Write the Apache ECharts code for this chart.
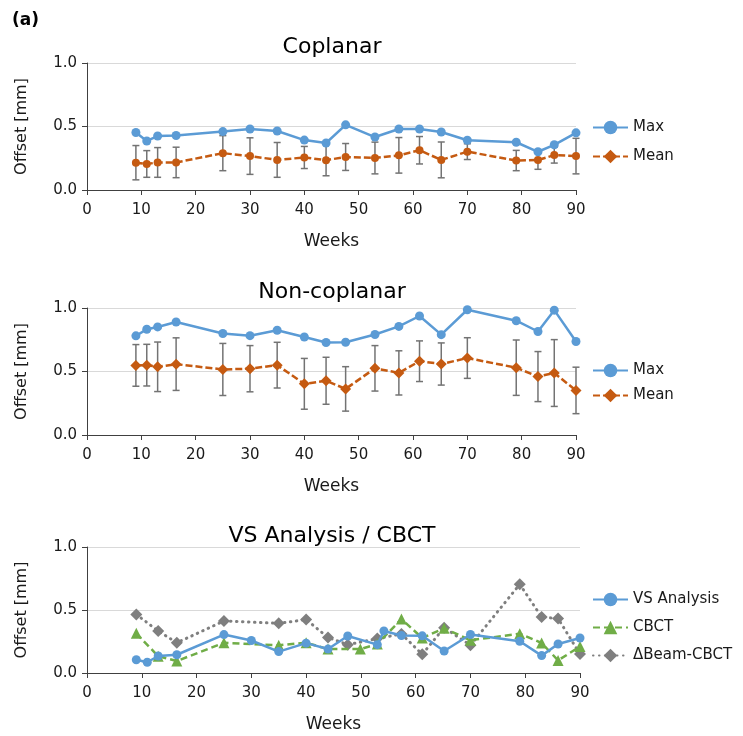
<!DOCTYPE html>
<html>
<head>
<meta charset="utf-8">
<script src="https://cdn.jsdelivr.net/npm/echarts@6/dist/echarts.min.js"></script>
<style>
  html, body { margin: 0; padding: 0; background: #fff; }
  #chart { width: 743px; height: 736px; }
</style>
</head>
<body>
<div id="chart"></div>
<script>
// weeks shared by the two upper panels
const weeks = [9, 11, 13, 16.4, 25, 30, 35, 40, 44, 47.6, 53, 57.4, 61.2, 65.2, 70, 79, 83, 86, 90];

// Coplanar
const copMax = [0.453, 0.386, 0.425, 0.429, 0.46, 0.48, 0.465, 0.393, 0.37, 0.513, 0.417, 0.48, 0.48, 0.457, 0.392, 0.376, 0.301, 0.356, 0.45];
const copMean = [0.215, 0.205, 0.217, 0.217, 0.29, 0.267, 0.237, 0.256, 0.235, 0.26, 0.252, 0.273, 0.313, 0.237, 0.302, 0.232, 0.236, 0.275, 0.267];
const copSd = [0.135, 0.105, 0.117, 0.12, 0.138, 0.144, 0.137, 0.087, 0.123, 0.106, 0.125, 0.14, 0.108, 0.141, 0.062, 0.08, 0.073, 0.063, 0.14];

// Non-coplanar
const nonMax = [0.781, 0.833, 0.851, 0.89, 0.799, 0.782, 0.825, 0.772, 0.728, 0.73, 0.791, 0.855, 0.937, 0.79, 0.986, 0.9, 0.815, 0.983, 0.736];
const nonMean = [0.548, 0.55, 0.537, 0.558, 0.516, 0.522, 0.55, 0.403, 0.427, 0.363, 0.525, 0.489, 0.581, 0.559, 0.606, 0.53, 0.46, 0.488, 0.351];
const nonSd = [0.164, 0.164, 0.195, 0.207, 0.205, 0.182, 0.18, 0.2, 0.185, 0.175, 0.179, 0.174, 0.16, 0.166, 0.16, 0.218, 0.197, 0.263, 0.183];

// VS Analysis / CBCT
const vsWeeks = [9, 11, 13, 16.4, 25, 30, 35, 40, 44, 47.6, 53, 54.2, 57.4, 61.2, 65.2, 70, 79, 83, 86, 90];
const vsVal = [0.105, 0.085, 0.135, 0.145, 0.305, 0.258, 0.17, 0.237, 0.19, 0.294, 0.225, 0.334, 0.298, 0.295, 0.175, 0.306, 0.252, 0.138, 0.23, 0.278];
const cbctWeeks = [9, 13, 16.4, 25, 35, 40, 44, 49.9, 53, 57.4, 61.2, 65.2, 70, 79, 83, 86, 90];
const cbctVal = [0.315, 0.133, 0.095, 0.24, 0.22, 0.24, 0.19, 0.19, 0.23, 0.428, 0.278, 0.355, 0.26, 0.312, 0.238, 0.1, 0.21];
const deltaWeeks = [9, 13, 16.4, 25, 35, 40, 44, 47.6, 53, 57.4, 61.2, 65.2, 70, 79, 83, 86, 90];
const deltaVal = [0.465, 0.333, 0.24, 0.413, 0.394, 0.424, 0.282, 0.225, 0.273, 0.31, 0.148, 0.36, 0.22, 0.704, 0.444, 0.432, 0.15];

const titles = ['Coplanar', 'Non-coplanar', 'VS Analysis / CBCT'];

const BLUE = '#5b9bd5', ORANGE = '#c55a11', GREEN = '#70ad47', GRAY = '#7f7f7f';
const FONT = 'DejaVu Sans';
const TXT = '#1a1a1a';

const pairs = (xs, ys) => xs.map((x, i) => [x, ys[i]]);
const errData = (means, sds) => weeks.map((w, i) => [w, means[i] - sds[i], means[i] + sds[i]]);

const grids = [
  {left: 87, right: 167, top: 63, height: 127},
  {left: 87, right: 167, top: 308, height: 127},
  {left: 87, right: 163, top: 547, height: 126}
];

function xAxisFor(i) {
  return {
    gridIndex: i, type: 'value', min: 0, max: 90, interval: 10,
    name: 'Weeks', nameLocation: 'middle', nameGap: 43,
    nameTextStyle: {fontFamily: FONT, fontSize: 17, color: TXT},
    axisLine: {lineStyle: {color: '#404040', width: 1}},
    axisTick: {show: true, length: 5, lineStyle: {color: '#404040'}},
    axisLabel: {fontFamily: FONT, fontSize: 15, color: TXT, margin: 13},
    splitLine: {show: false}
  };
}

function yAxisFor(i) {
  return {
    gridIndex: i, type: 'value', min: 0, max: 1, interval: 0.5,
    name: 'Offset [mm]', nameLocation: 'middle', nameGap: 57,
    nameTextStyle: {fontFamily: FONT, fontSize: 16, color: TXT},
    axisLine: {show: true, lineStyle: {color: '#404040', width: 1}},
    axisTick: {show: true, length: 5, lineStyle: {color: '#404040'}},
    axisLabel: {fontFamily: FONT, fontSize: 15, color: TXT, margin: 10,
      formatter: v => v.toFixed(1)},
    splitLine: {show: true, lineStyle: {color: '#d9d9d9', width: 1}}
  };
}

function errorSeries(i, means, sds) {
  return {
    type: 'custom', xAxisIndex: i, yAxisIndex: i, z: 1, silent: true,
    data: errData(means, sds),
    renderItem: function (params, api) {
      const x = api.value(0);
      const lo = api.coord([x, api.value(1)]);
      const hi = api.coord([x, api.value(2)]);
      const cap = 3.5;
      const st = {stroke: '#737373', lineWidth: 1.5};
      return {
        type: 'group',
        children: [
          {type: 'line', shape: {x1: lo[0], y1: lo[1], x2: hi[0], y2: hi[1]}, style: st},
          {type: 'line', shape: {x1: lo[0] - cap, y1: lo[1], x2: lo[0] + cap, y2: lo[1]}, style: st},
          {type: 'line', shape: {x1: hi[0] - cap, y1: hi[1], x2: hi[0] + cap, y2: hi[1]}, style: st}
        ]
      };
    }
  };
}

function legendFor(names, top, gap) {
  return {
    data: names, orient: 'vertical', left: 592, top: top, padding: 0,
    itemWidth: 35, itemHeight: 17, itemGap: gap,
    textStyle: {fontFamily: FONT, fontSize: 15, color: TXT},
    selectedMode: false
  };
}

const option = {
  backgroundColor: '#fff',
  animation: false,
  title: [
    {text: '(a)', left: 12, top: 12, padding: 0,
      textStyle: {fontFamily: FONT, fontSize: 17, fontWeight: 'bold', color: '#000'}},
    ...titles.map((t, i) => ({
      text: t, left: 332, textAlign: 'center', top: [36, 281, 525][i], padding: 0,
      textStyle: {fontFamily: FONT, fontSize: 22, fontWeight: 'normal', color: '#000'}
    }))
  ],
  legend: [
    legendFor(['Max', 'Mean'], 120, 14),
    legendFor(['Max', 'Mean'], 363, 10),
    legendFor(['VS Analysis', 'CBCT', '\u0394Beam-CBCT'], 592, 13)
  ],
  grid: grids,
  xAxis: [0, 1, 2].map(xAxisFor),
  yAxis: [0, 1, 2].map(yAxisFor),
  series: [
    errorSeries(0, copMean, copSd),
    {
      name: 'Max', type: 'line', xAxisIndex: 0, yAxisIndex: 0, z: 3,
      data: pairs(weeks, copMax), symbol: 'circle', symbolSize: 9,
      lineStyle: {color: BLUE, width: 2.5}, itemStyle: {color: BLUE}
    },
    {
      name: 'Mean', type: 'line', xAxisIndex: 0, yAxisIndex: 0, z: 2,
      // series symbol is a diamond (legend), points are drawn as dots
      data: weeks.map((w, i) => ({value: [w, copMean[i]], symbol: 'circle', symbolSize: 8})),
      symbol: 'diamond', symbolSize: 11,
      lineStyle: {color: ORANGE, width: 2.5, type: [7, 3]}, itemStyle: {color: ORANGE}
    },
    errorSeries(1, nonMean, nonSd),
    {
      name: 'Max', type: 'line', xAxisIndex: 1, yAxisIndex: 1, z: 3,
      data: pairs(weeks, nonMax), symbol: 'circle', symbolSize: 9,
      lineStyle: {color: BLUE, width: 2.5}, itemStyle: {color: BLUE}
    },
    {
      name: 'Mean', type: 'line', xAxisIndex: 1, yAxisIndex: 1, z: 2,
      data: pairs(weeks, nonMean), symbol: 'diamond', symbolSize: 11,
      lineStyle: {color: ORANGE, width: 2.5, type: [7, 3]}, itemStyle: {color: ORANGE}
    },
    {
      name: 'VS Analysis', type: 'line', xAxisIndex: 2, yAxisIndex: 2, z: 4,
      data: pairs(vsWeeks, vsVal), symbol: 'circle', symbolSize: 9,
      lineStyle: {color: BLUE, width: 2.5}, itemStyle: {color: BLUE}
    },
    {
      name: 'CBCT', type: 'line', xAxisIndex: 2, yAxisIndex: 2, z: 3,
      data: pairs(cbctWeeks, cbctVal), symbol: 'triangle', symbolSize: 11,
      lineStyle: {color: GREEN, width: 2.5, type: [7, 4]}, itemStyle: {color: GREEN}
    },
    {
      name: '\u0394Beam-CBCT', type: 'line', xAxisIndex: 2, yAxisIndex: 2, z: 2,
      data: pairs(deltaWeeks, deltaVal), symbol: 'diamond', symbolSize: 12,
      lineStyle: {color: GRAY, width: 3, type: [0.5, 5.5], cap: 'round'}, itemStyle: {color: GRAY}
    }
  ]
};

const chart = echarts.init(document.getElementById('chart'), null, {renderer: 'canvas'});
chart.setOption(option);
</script>
</body>
</html>
